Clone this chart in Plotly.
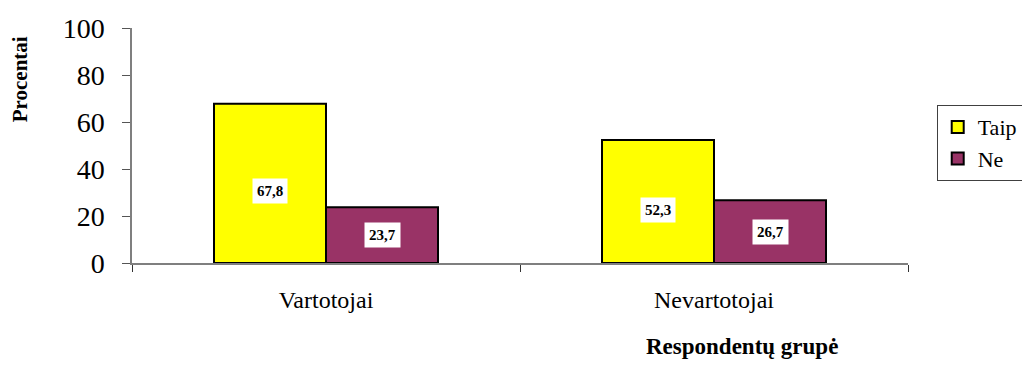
import plotly.graph_objects as go

# Survey data: share (%) answering "Taip" / "Ne" per respondent group
groups = ["Vartotojai", "Nevartotojai"]
taip = [67.8, 52.3]
ne = [23.7, 26.7]
series_names = ["Taip", "Ne"]
y_ticks = [0, 20, 40, 60, 80, 100]

FONT = "Times New Roman"
BARGAP = 0.4227
colors = {"Taip": "#FFFF00", "Ne": "#993366"}

fig = go.Figure()
for name, vals in zip(series_names, [taip, ne]):
    fig.add_trace(go.Bar(
        x=groups, y=vals, name=name, legendgroup=name,
        marker=dict(color=colors[name], line=dict(color="black", width=2)),
    ))

# Value labels in white boxes, centred on each bar
bar_w = (1 - BARGAP) / 2
for k, (name, vals) in enumerate(zip(series_names, [taip, ne])):
    offset = (k - 0.5) * bar_w
    for i, v in enumerate(vals):
        fig.add_annotation(
            x=i + offset, y=v / 2, xref="x", yref="y",
            text="<b>" + f"{v:.1f}".replace(".", ",") + "</b>", showarrow=False,
            font=dict(family=FONT, size=15, color="black"),
            bgcolor="white", borderpad=4,
            yshift=-8 if name == "Taip" else 0,
        )

fig.add_annotation(
    text="<b>Procentai</b>", textangle=-90, showarrow=False,
    xref="paper", yref="paper", x=-0.144, y=0.783,
    xanchor="center", yanchor="middle",
    font=dict(family=FONT, size=21, color="black"),
)
fig.add_annotation(
    text="<b>Respondentų grupė</b>", showarrow=False,
    xref="paper", yref="paper", x=0.786, y=-0.357,
    xanchor="center", yanchor="middle",
    font=dict(family=FONT, size=23, color="black"),
)

fig.update_layout(
    width=1022, height=365,
    margin=dict(l=132, r=114, t=28, b=102, autoexpand=False),
    plot_bgcolor="white", paper_bgcolor="white",
    barmode="group", bargap=BARGAP, bargroupgap=0,
    font=dict(family=FONT, color="black"),
    showlegend=True,
    legend=dict(
        x=1.037, y=0.672, xanchor="left", yanchor="top",
        bordercolor="#404040", borderwidth=1, bgcolor="white",
        font=dict(family=FONT, size=22, color="black"),
        tracegroupgap=10, traceorder="normal",
    ),
    xaxis=dict(
        type="category", range=[-0.5, 1.5],
        showline=True, linecolor="#7f7f7f", linewidth=1.5,
        ticks="outside", ticklen=7, tickcolor="#333333", tickson="boundaries",
        tickfont=dict(family=FONT, size=24, color="black"),
        ticklabelstandoff=14, showgrid=False, zeroline=False,
    ),
    yaxis=dict(
        range=[0, 100], tickvals=y_ticks,
        showline=True, linecolor="#7f7f7f", linewidth=1.5,
        ticks="outside", ticklen=8, tickcolor="#555555",
        tickfont=dict(family=FONT, size=28, color="black"),
        ticklabelstandoff=12, showgrid=False, zeroline=False,
    ),
)

fig.write_html("out.html")
